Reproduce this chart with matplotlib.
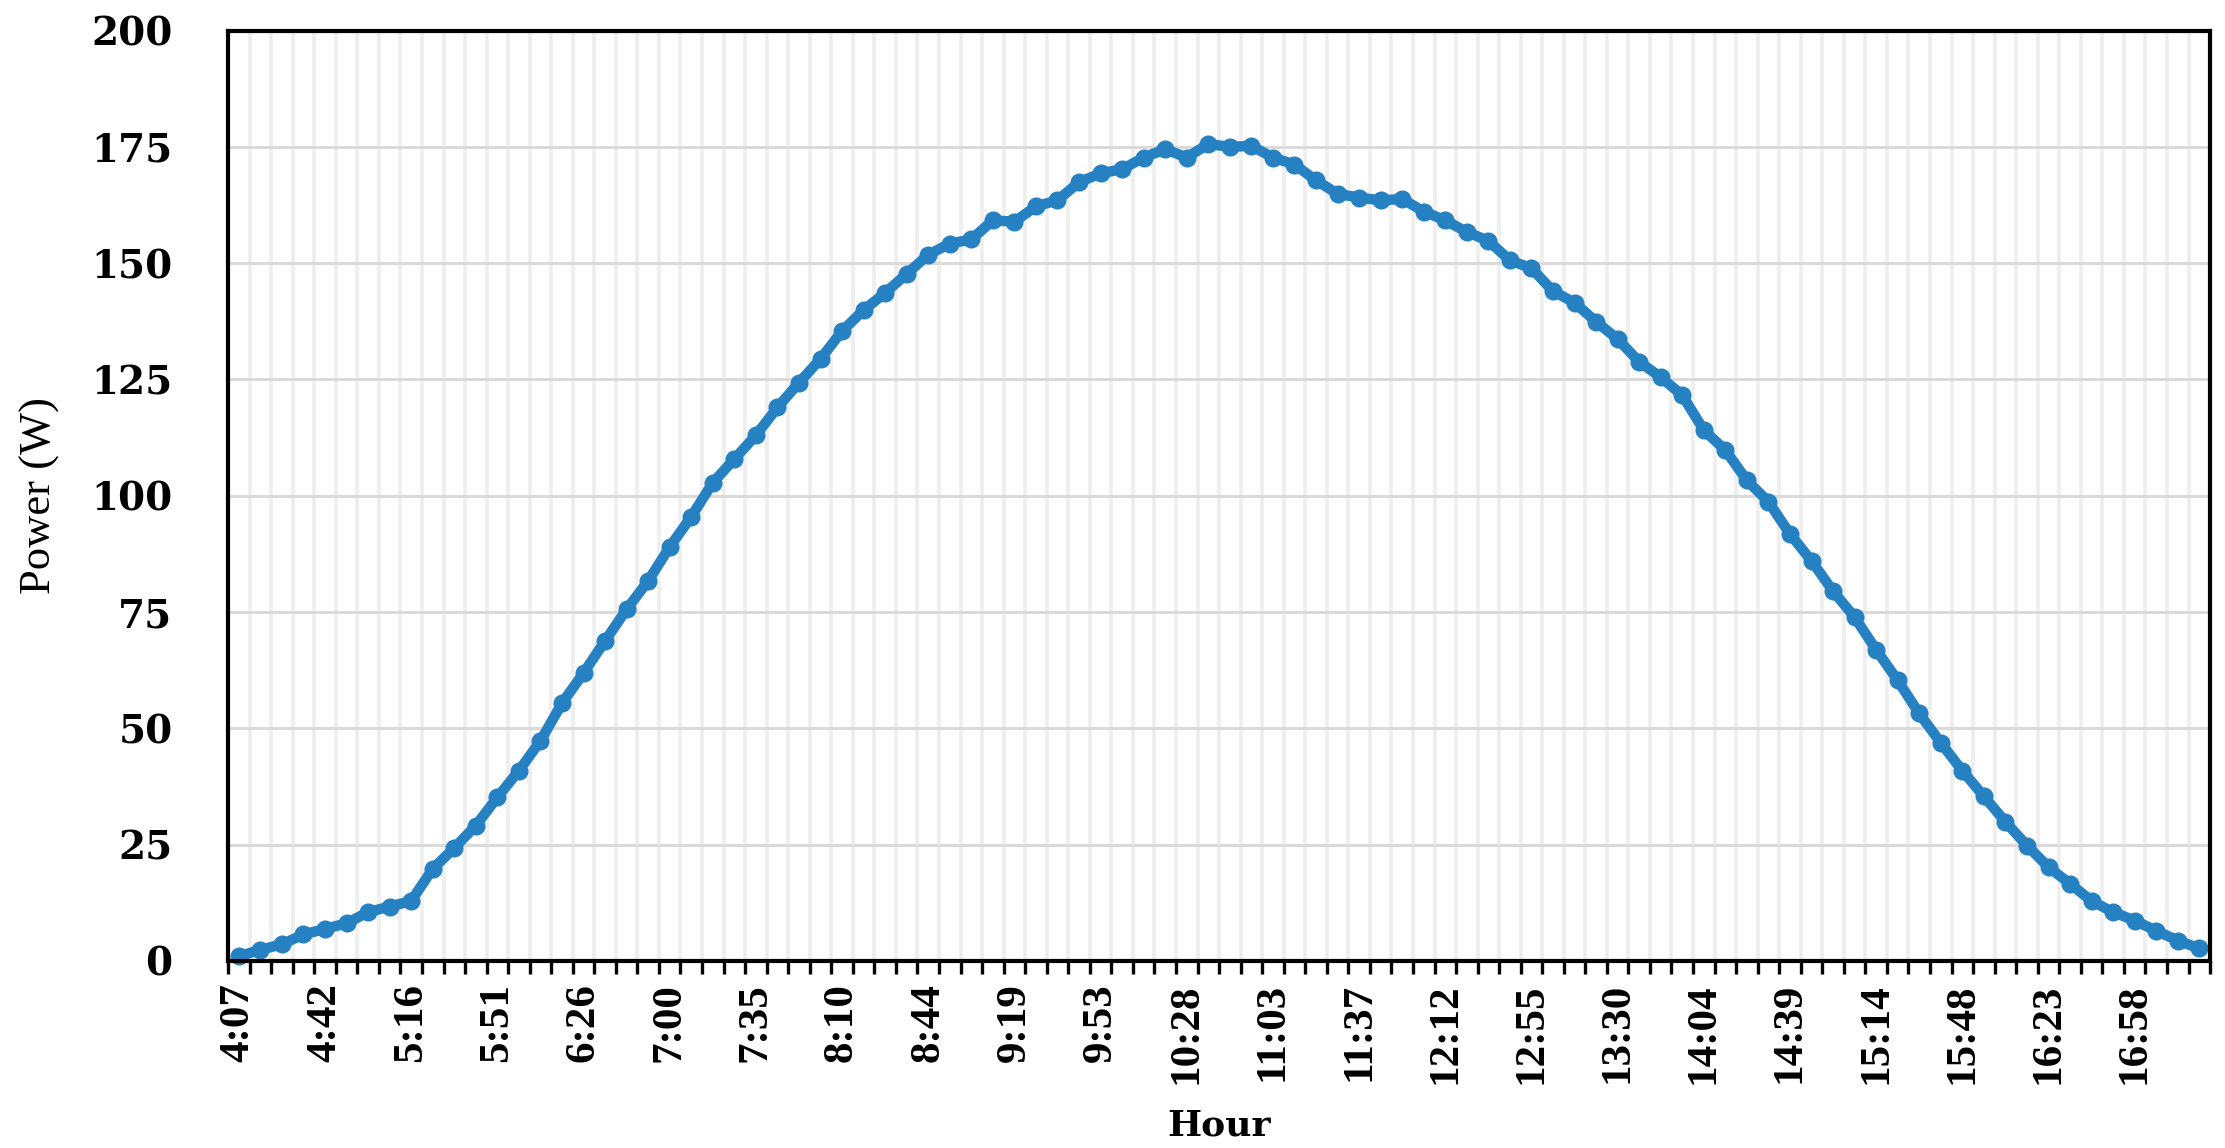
import numpy as np
import matplotlib
matplotlib.use('Agg')
import matplotlib.pyplot as plt

# power readings, one per time step (about 8.6 min apart)
power = [1.0, 2.4, 3.6, 5.7, 6.9, 8.1, 10.5, 11.7, 12.9, 19.8,
         24.3, 29.1, 35.2, 40.9, 47.3, 55.4, 61.9, 68.8, 75.6, 81.7,
         89.0, 95.5, 102.8, 107.9, 113.0, 119.0, 124.3, 129.4, 135.4, 139.9,
         143.6, 147.7, 151.8, 154.2, 155.1, 159.2, 158.9, 162.2, 163.5, 167.4,
         169.3, 170.2, 172.7, 174.5, 172.7, 175.6, 175.0, 175.2, 172.7, 171.2,
         167.8, 164.9, 164.1, 163.5, 163.8, 161.1, 159.2, 156.7, 154.8, 150.6,
         148.9, 144.0, 141.5, 137.4, 133.7, 128.8, 125.5, 121.6, 114.1, 109.8,
         103.3, 98.7, 91.8, 86.0, 79.5, 73.9, 66.9, 60.3, 53.2, 46.9,
         40.9, 35.4, 29.9, 24.8, 20.2, 16.6, 12.9, 10.5, 8.7, 6.5,
         4.4, 2.7]

# labels shown every 4th sample
hour_labels = ['4:07', '4:42', '5:16', '5:51', '6:26', '7:00', '7:35', '8:10',
               '8:44', '9:19', '9:53', '10:28', '11:03', '11:37', '12:12',
               '12:55', '13:30', '14:04', '14:39', '15:14', '15:48', '16:23',
               '16:58']
label_step = 4

y_ticks = [0, 25, 50, 75, 100, 125, 150, 175, 200]

x = np.arange(len(power))

fig = plt.figure(figsize=(22.25, 11.48), dpi=100)
ax = fig.add_axes([0.1025, 0.1629, 0.8908, 0.8105])

ax.plot(x, power, color='#2681c2', linewidth=7.5, marker='o', markersize=13,
        markeredgewidth=0, zorder=3, clip_on=False)

ax.set_xlim(-0.5, len(power) - 0.5)
ax.set_ylim(0, 200)

# category boundaries carry the tick marks and vertical grid
ax.set_xticks(np.arange(-0.5, len(power), 1), minor=True)
ax.set_xticks(x[::label_step][:len(hour_labels)])
ax.set_xticklabels(hour_labels, rotation=90, fontsize=31,
                   fontweight='bold', family='Liberation Serif')
ax.tick_params(axis='x', which='major', length=0, pad=16)
ax.tick_params(axis='x', which='minor', length=9, width=2.4,
               direction='out', color='black')

ax.set_yticks(y_ticks)
ax.set_yticklabels([str(v) for v in y_ticks], fontsize=28,
                   fontweight='bold', family='DejaVu Serif')
ax.tick_params(axis='y', length=0, pad=40)

ax.grid(which='minor', axis='x', color='#eeeeee', linewidth=2.6, zorder=0)
ax.grid(which='major', axis='y', color='#dadada', linewidth=2.2, zorder=0)
ax.set_axisbelow(True)

for sp in ax.spines.values():
    sp.set_linewidth(3)
    sp.set_color('black')
    sp.set_zorder(4)

ax.set_ylabel('Power (W)', fontsize=32, family='Liberation Serif')
ax.yaxis.set_label_coords(-0.085, 0.5)
ax.set_xlabel('Hour', fontsize=26, fontweight='bold', family='DejaVu Serif')
ax.xaxis.set_label_coords(0.5, -0.158)

fig.savefig('out.png', dpi=100)
